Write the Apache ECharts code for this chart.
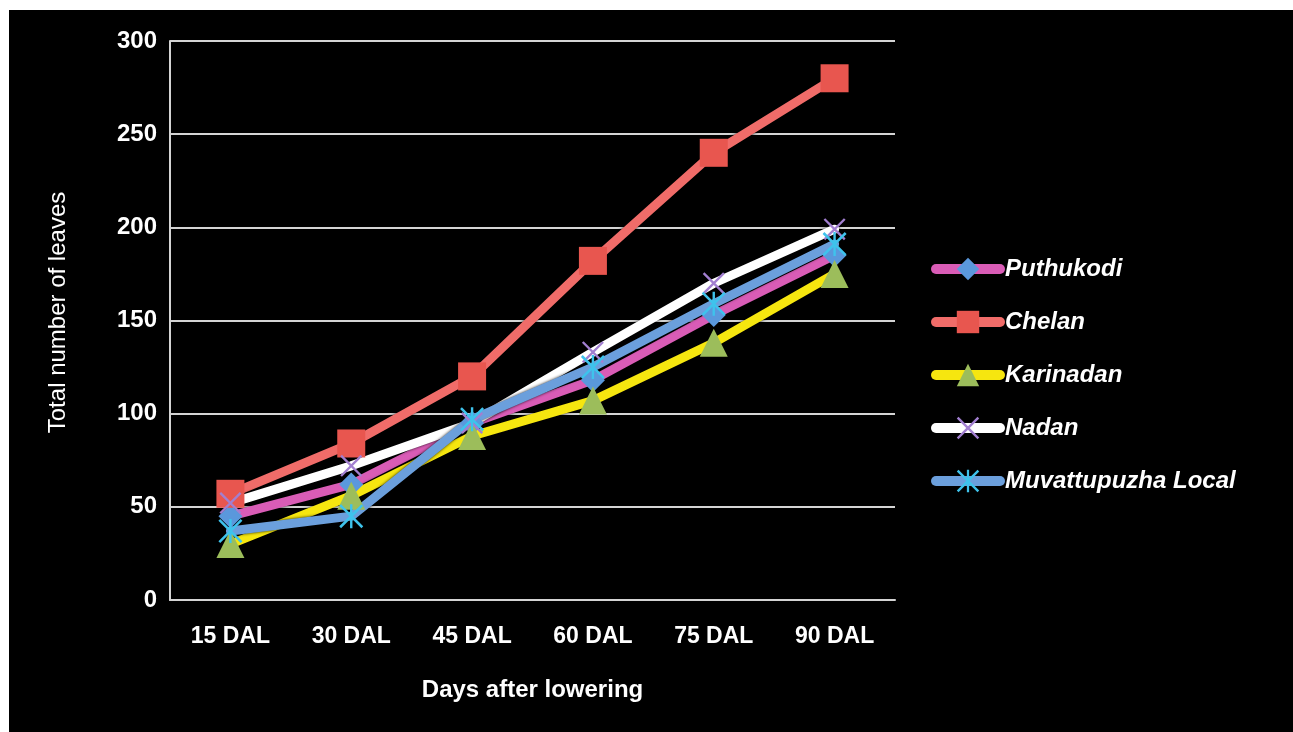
<!DOCTYPE html>
<html>
<head>
<meta charset="utf-8">
<script src="https://cdn.jsdelivr.net/npm/echarts@6/dist/echarts.min.js"></script>
<style>
  html, body { margin: 0; padding: 0; background: #ffffff; }
  #chart { position: absolute; left: 9px; top: 10px; width: 1284px; height: 722px; background: #000000; }
</style>
</head>
<body>
<div id="chart"></div>
<script>
// Days after lowering (DAL)
const categories = ['15 DAL', '30 DAL', '45 DAL', '60 DAL', '75 DAL', '90 DAL'];

// Total number of leaves per variety
const puthukodi    = [45, 62, 95, 118, 153, 185];
const chelan       = [57, 84, 120, 182, 240, 280];
const karinadan    = [30, 56, 88, 107, 138, 175];
const nadan        = [52, 72, 95, 133, 170, 199];
const muvattupuzha = [37, 45, 97, 125, 159, 191];

const seriesNames = ['Puthukodi', 'Chelan', 'Karinadan', 'Nadan', 'Muvattupuzha Local'];

// Marker shapes: thin cross and asterisk built as filled paths
const crossPath = 'path://M0,1.5 L1.5,0 L20,18.5 L18.5,20 Z M18.5,0 L20,1.5 L1.5,20 L0,18.5 Z';
const starPath = 'path://M0,1.5 L1.5,0 L20,18.5 L18.5,20 Z M18.5,0 L20,1.5 L1.5,20 L0,18.5 Z M9,0 L11,0 L11,20 L9,20 Z';

const chart = echarts.init(document.getElementById('chart'));

function lineSeries(name, data, lineColor, symbol, symbolSize, markerColor) {
  return {
    name: name,
    type: 'line',
    data: data,
    symbol: symbol,
    symbolSize: symbolSize,
    showAllSymbol: true,
    lineStyle: {
      color: lineColor,
      width: 9,
      cap: 'round',
      join: 'round',
      shadowColor: 'rgba(0,0,0,0.85)',
      shadowBlur: 3
    },
    itemStyle: { color: markerColor, borderWidth: 0, opacity: 1 },
    emphasis: { disabled: true },
    animation: false
  };
}

chart.setOption({
  backgroundColor: '#000000',
  textStyle: { fontFamily: 'Liberation Sans, Arial, sans-serif' },
  grid: { left: 161, right: 398, top: 31, bottom: 132, containLabel: false },
  legend: {
    orient: 'vertical',
    left: 917,
    top: 242,
    itemWidth: 64,
    itemHeight: 28,
    itemGap: 29,
    data: seriesNames,
    lineStyle: { width: 10, cap: 'round' },
    textStyle: {
      color: '#ffffff',
      fontSize: 24,
      fontWeight: 'bold',
      fontStyle: 'italic',
      fontFamily: 'Liberation Sans, Arial, sans-serif'
    }
  },
  xAxis: {
    type: 'category',
    data: categories,
    boundaryGap: true,
    name: 'Days after lowering',
    nameLocation: 'middle',
    nameGap: 78,
    nameTextStyle: { color: '#ffffff', fontSize: 24, fontWeight: 'bold' },
    axisLine: { show: true, lineStyle: { color: '#d4d4d4', width: 2 } },
    axisTick: { show: false },
    axisLabel: { color: '#ffffff', fontSize: 23, fontWeight: 'bold', margin: 25 }
  },
  yAxis: {
    type: 'value',
    min: 0,
    max: 300,
    interval: 50,
    name: 'Total number of leaves',
    nameLocation: 'middle',
    nameGap: 100,
    nameRotate: 90,
    nameTextStyle: { color: '#ffffff', fontSize: 24, padding: [0, 0, 0, 16] },
    axisLine: { show: true, lineStyle: { color: '#d4d4d4', width: 2 } },
    axisTick: { show: false },
    axisLabel: { color: '#ffffff', fontSize: 24, fontWeight: 'bold', margin: 13 },
    splitLine: { show: true, lineStyle: { color: '#d4d4d4', width: 2 } }
  },
  series: [
    lineSeries('Puthukodi', puthukodi, '#d95cb6', 'diamond', 24, '#5a98dc'),
    lineSeries('Chelan', chelan, '#f06c69', 'rect', 28, '#e8564f'),
    lineSeries('Karinadan', karinadan, '#f6e60f', 'triangle', 28, '#9cbd5b'),
    lineSeries('Nadan', nadan, '#ffffff', crossPath, 22, '#a27fd0'),
    lineSeries('Muvattupuzha Local', muvattupuzha, '#6b9fdc', starPath, 24, '#3ec3ec')
  ]
});
</script>
</body>
</html>
